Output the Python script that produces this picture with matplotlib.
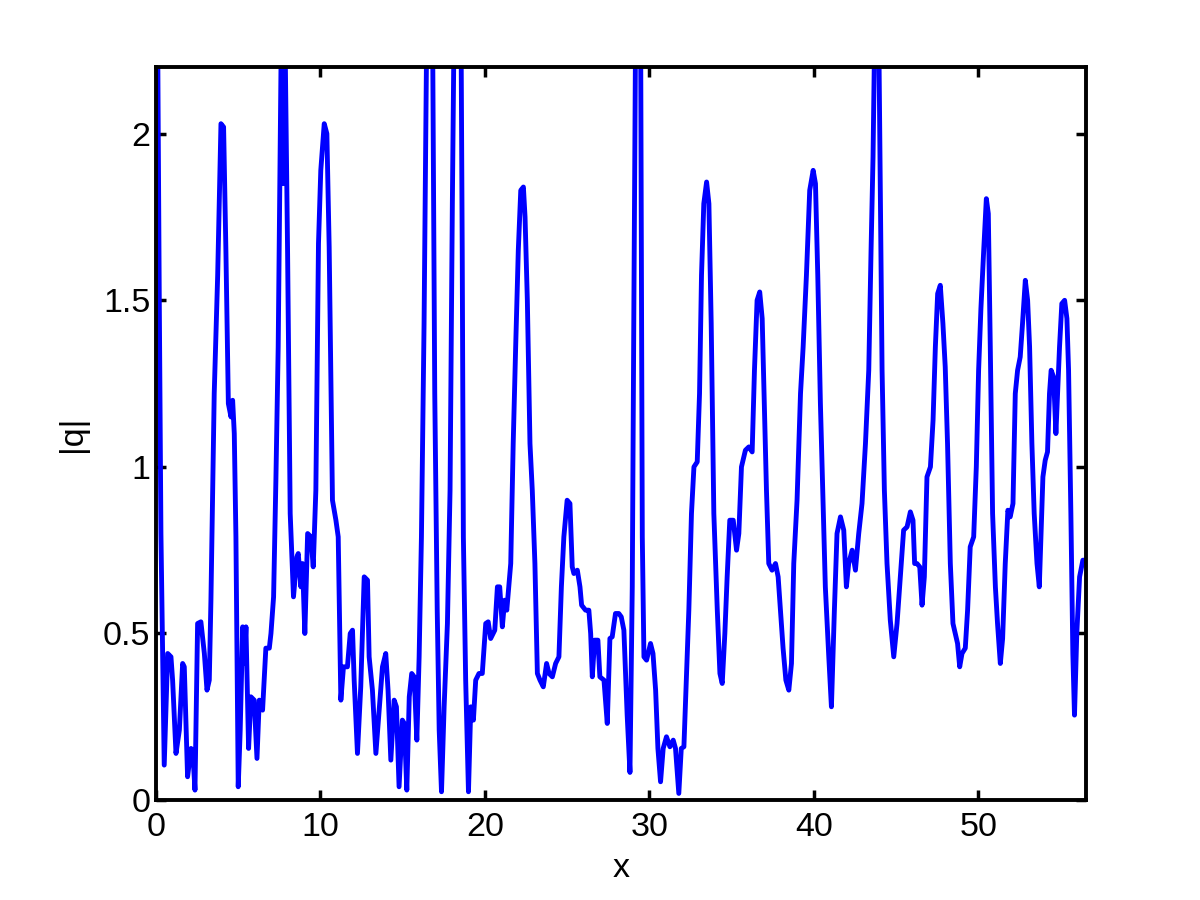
import matplotlib
matplotlib.use("Agg")
import matplotlib.pyplot as plt

x_vals = [0.0, 0.1, 0.2, 0.3, 0.5, 0.71, 0.91, 1.01, 1.215, 1.42, 1.62, 1.72, 1.92, 2.13, 2.23, 2.37,
          2.53, 2.73, 2.94, 3.1, 3.24, 3.34, 3.54, 3.75, 3.95, 4.11, 4.25, 4.4, 4.56, 4.66, 4.76, 4.86,
          5.0, 5.12, 5.27, 5.37, 5.47, 5.63, 5.77, 5.97, 6.14, 6.28, 6.48, 6.68, 6.89, 6.99, 7.15, 7.29,
          7.43, 7.55, 7.64, 7.72, 7.82, 8.0, 8.16, 8.36, 8.57, 8.65, 8.81, 8.91, 9.05, 9.22, 9.42, 9.56,
          9.72, 9.88, 10.02, 10.23, 10.39, 10.53, 10.73, 10.94, 11.08, 11.24, 11.4, 11.64, 11.81, 11.95,
          12.05, 12.25, 12.45, 12.66, 12.86, 12.96, 13.16, 13.37, 13.57, 13.77, 13.97, 14.11, 14.28,
          14.48, 14.62, 14.78, 14.98, 15.1, 15.25, 15.4, 15.55, 15.7, 15.86, 16.0, 16.14, 16.3, 16.46,
          16.65, 16.82, 16.95, 17.1, 17.22, 17.36, 17.52, 17.72, 17.88, 18.02, 18.14, 18.35, 18.55,
          18.62, 18.69, 18.83, 19.0, 19.14, 19.3, 19.44, 19.64, 19.84, 20.05, 20.2, 20.35, 20.6, 20.76,
          20.9, 21.06, 21.2, 21.33, 21.45, 21.57, 21.72, 21.87, 22.03, 22.18, 22.34, 22.44, 22.58, 22.74,
          22.88, 23.04, 23.19, 23.35, 23.55, 23.75, 23.9, 24.1, 24.3, 24.5, 24.65, 24.8, 25.0, 25.17,
          25.31, 25.41, 25.62, 25.78, 25.88, 26.12, 26.32, 26.43, 26.53, 26.67, 26.87, 26.99, 27.24,
          27.44, 27.6, 27.74, 27.94, 28.14, 28.29, 28.45, 28.65, 28.82, 28.96, 29.06, 29.16, 29.3, 29.47,
          29.57, 29.67, 29.83, 30.07, 30.22, 30.38, 30.52, 30.68, 30.84, 31.04, 31.25, 31.45, 31.59,
          31.79, 31.94, 32.1, 32.26, 32.4, 32.56, 32.71, 32.91, 33.05, 33.17, 33.31, 33.48, 33.62, 33.76,
          33.92, 34.13, 34.29, 34.43, 34.59, 34.73, 34.89, 35.1, 35.3, 35.44, 35.6, 35.84, 36.05, 36.25,
          36.39, 36.55, 36.71, 36.86, 36.96, 37.12, 37.26, 37.46, 37.67, 37.83, 37.97, 38.13, 38.3,
          38.48, 38.64, 38.78, 38.98, 39.19, 39.35, 39.55, 39.75, 39.96, 40.1, 40.24, 40.4, 40.56, 40.7,
          40.91, 41.07, 41.25, 41.41, 41.62, 41.82, 41.98, 42.12, 42.33, 42.53, 42.73, 42.93, 43.14,
          43.34, 43.48, 43.6, 43.7, 43.82, 43.95, 44.05, 44.15, 44.29, 44.45, 44.65, 44.86, 45.06, 45.26,
          45.46, 45.67, 45.87, 46.03, 46.13, 46.27, 46.44, 46.58, 46.72, 46.88, 47.09, 47.25, 47.39,
          47.53, 47.69, 47.85, 47.99, 48.13, 48.3, 48.46, 48.6, 48.74, 48.87, 49.01, 49.21, 49.35, 49.51,
          49.72, 49.88, 50.02, 50.16, 50.33, 50.49, 50.61, 50.73, 50.87, 51.04, 51.17, 51.34, 51.48,
          51.64, 51.8, 51.94, 52.11, 52.25, 52.39, 52.55, 52.69, 52.86, 53.0, 53.12, 53.26, 53.4, 53.57,
          53.71, 53.81, 53.93, 54.07, 54.21, 54.33, 54.43, 54.58, 54.72, 54.82, 54.94, 55.08, 55.25,
          55.39, 55.49, 55.63, 55.75, 55.85, 55.99, 56.16, 56.36, 56.55]

q_vals = [2.6, 2.3, 1.5, 0.8, 0.105, 0.44, 0.43, 0.36, 0.14, 0.21, 0.41, 0.40, 0.07, 0.155, 0.15, 0.03,
          0.53, 0.535, 0.44, 0.33, 0.36, 0.6, 1.22, 1.575, 2.03, 2.02, 1.65, 1.19, 1.15, 1.2, 1.10, 0.79,
          0.04, 0.21, 0.52, 0.41, 0.52, 0.155, 0.31, 0.30, 0.125, 0.30, 0.27, 0.456, 0.456, 0.5, 0.61, 0.96,
          1.36, 1.97, 2.4, 1.85, 2.4, 1.65, 0.86, 0.61, 0.73, 0.74, 0.64, 0.71, 0.5, 0.8, 0.79, 0.70,
          0.93, 1.67, 1.89, 2.03, 2.0, 1.66, 0.9, 0.84, 0.79, 0.30, 0.40, 0.40, 0.5, 0.51,
          0.36, 0.14, 0.34, 0.67, 0.66, 0.43, 0.33, 0.14, 0.27, 0.40, 0.44, 0.33, 0.12,
          0.30, 0.28, 0.04, 0.24, 0.23, 0.03, 0.31, 0.38, 0.37, 0.18, 0.43, 0.79, 1.43, 2.3,
          2.8, 2.3, 1.22, 0.57, 0.21, 0.025, 0.28, 0.53, 0.93, 1.79, 2.4, 3.0, 2.3,
          1.65, 0.79, 0.36, 0.025, 0.28, 0.24, 0.36, 0.38, 0.38, 0.53, 0.535, 0.485, 0.51, 0.64,
          0.64, 0.52, 0.6, 0.57, 0.64, 0.71, 1.07, 1.36, 1.65, 1.83, 1.84, 1.75, 1.5, 1.07,
          0.93, 0.71, 0.38, 0.36, 0.34, 0.41, 0.38, 0.37, 0.41, 0.43, 0.64, 0.79, 0.9, 0.89,
          0.7, 0.68, 0.69, 0.64, 0.585, 0.57, 0.57, 0.5, 0.37, 0.48, 0.48, 0.37, 0.36,
          0.23, 0.485, 0.49, 0.56, 0.56, 0.55, 0.51, 0.255, 0.083, 0.64, 1.5, 2.3, 2.9, 2.3,
          0.79, 0.43, 0.42, 0.47, 0.44, 0.33, 0.155, 0.055, 0.155, 0.19, 0.16, 0.18, 0.155,
          0.02, 0.155, 0.16, 0.38, 0.57, 0.86, 1.0, 1.015, 1.22, 1.575, 1.79, 1.855, 1.79, 1.43,
          0.86, 0.57, 0.38, 0.35, 0.5, 0.67, 0.84, 0.84, 0.75, 0.8, 1.0, 1.05, 1.06, 1.045,
          1.29, 1.5, 1.525, 1.445, 1.245, 0.93, 0.71, 0.69, 0.71, 0.67, 0.57, 0.456, 0.36,
          0.33, 0.41, 0.71, 0.9, 1.22, 1.36, 1.575, 1.83, 1.89, 1.85, 1.575, 1.19, 0.89, 0.64,
          0.43, 0.28, 0.57, 0.8, 0.85, 0.81, 0.64, 0.71, 0.75, 0.69, 0.8, 0.89, 1.07,
          1.29, 1.65, 1.93, 2.3, 2.6, 2.3, 1.79, 1.29, 0.93, 0.71, 0.54, 0.43, 0.53, 0.67,
          0.81, 0.82, 0.865, 0.84, 0.71, 0.71, 0.70, 0.585, 0.67, 0.97, 1.0, 1.14, 1.36,
          1.52, 1.545, 1.43, 1.3, 1.07, 0.71, 0.53, 0.5, 0.47, 0.40, 0.44, 0.456, 0.57, 0.76,
          0.79, 1.0, 1.29, 1.475, 1.65, 1.805, 1.76, 1.36, 0.86, 0.64, 0.53, 0.41, 0.485,
          0.71, 0.87, 0.85, 0.89, 1.22, 1.29, 1.33, 1.43, 1.56, 1.5, 1.36, 1.07, 0.86, 0.71,
          0.64, 0.79, 0.97, 1.02, 1.045, 1.22, 1.29, 1.27, 1.1, 1.22, 1.36, 1.49, 1.5,
          1.445, 1.29, 0.86, 0.44, 0.255, 0.5, 0.67, 0.72, 0.72]

x_ticks = [0, 10, 20, 30, 40, 50]
y_ticks = [0, 0.5, 1, 1.5, 2]
y_tick_labels = ["0", "0.5", "1", "1.5", "2"]

plt.rcParams['font.family'] = ['Liberation Sans', 'DejaVu Sans']

fig = plt.figure(figsize=(12, 9), dpi=100)
ax = fig.add_axes([0.13, 0.111, 0.775, 0.8145])
ax.plot(x_vals, q_vals, color=(0, 0, 1), linewidth=3.5)
ax.set_xlim(0, 56.55)
ax.set_ylim(0, 2.2)
ax.set_xticks(x_ticks)
ax.set_yticks(y_ticks)
ax.set_yticklabels(y_tick_labels)
ax.tick_params(direction='in', top=True, right=True, length=7, width=2.5, labelsize=24.5)
ax.tick_params(axis='x', pad=8.5)
ax.tick_params(axis='y', pad=4)
for s in ax.spines.values():
    s.set_linewidth(2.8)
ax.set_xlabel('x', fontsize=24.5, labelpad=7)
ax.set_ylabel('|q|', fontsize=24.5, labelpad=11)
fig.savefig('out.png', dpi=100)
